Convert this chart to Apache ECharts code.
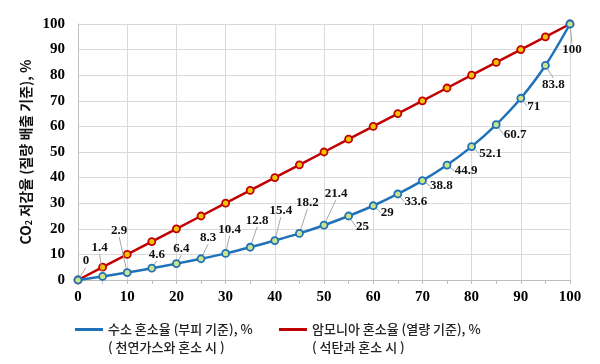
<!DOCTYPE html>
<html><head><meta charset="utf-8">
<script src="https://cdn.jsdelivr.net/npm/echarts@6/dist/echarts.min.js"></script>
<style>html,body{margin:0;padding:0;background:#fff}#c{width:600px;height:364px}</style>
</head><body><div id="c"></div>
<script>
var blendRatio = [0,5,10,15,20,25,30,35,40,45,50,55,60,65,70,75,80,85,90,95,100];
var hydrogenReduction = [0,1.4,2.9,4.6,6.4,8.3,10.4,12.8,15.4,18.2,21.4,25,29,33.6,38.8,44.9,52.1,60.7,71,83.8,100];
var ammoniaReduction = [0,5,10,15,20,25,30,35,40,45,50,55,60,65,70,75,80,85,90,95,100];
var hydrogenName = '수소 혼소율 (부피 기준), %';
var hydrogenSub = '( 천연가스와 혼소 시 )';
var ammoniaName = '암모니아 혼소율 (열량 기준), %';
var ammoniaSub = '( 석탄과 혼소 시 )';

// label offsets (style only)
var labelOffsets = [[8,-19],[-3,-29],[-8,-42],[5,-14],[5,-15],[7,-21],[4,-24],[7,-27],[6,-30],[8,-31],[12,-32],
  [14,11],[14,7],[18,8],[19,5],[19,6],[19,7],[19,10],[13,8],[8,19],[2,26]];

var chart = echarts.init(document.getElementById('c'));
var serif = '"Liberation Serif","Times New Roman",serif';
var kr = '"Noto Sans CJK KR","Noto Sans",sans-serif';
var subs = {};
subs[hydrogenName] = hydrogenSub;
subs[ammoniaName] = ammoniaSub;
function legendFmt(name) { return '{e| }\n{a|' + name + '}\n{a|' + subs[name] + '}'; }
var legendText = {
  fontFamily: kr, fontSize: 13, color: '#222',
  rich: {
    e: {fontSize: 13, lineHeight: 18},
    a: {fontFamily: kr, fontSize: 13, fontWeight: 500, color: '#222', lineHeight: 18}
  }
};
chart.setOption({
  animation: false,
  grid: {left: 78, right: 30, top: 24, bottom: 84},
  xAxis: {
    type: 'value', min: 0, max: 100, interval: 10,
    axisLine: {show: true, lineStyle: {color: '#bfbfbf'}},
    axisTick: {show: true, length: 4, lineStyle: {color: '#bfbfbf'}},
    minorTick: {show: true, splitNumber: 2, length: 4, lineStyle: {color: '#bfbfbf'}},
    axisLabel: {fontFamily: serif, fontWeight: 'bold', fontSize: 15, color: '#000', margin: 10},
    splitLine: {show: true, lineStyle: {color: '#d9d9d9'}}
  },
  yAxis: {
    type: 'value', min: 0, max: 100, interval: 10,
    axisLine: {show: true, lineStyle: {color: '#bfbfbf'}},
    axisTick: {show: false},
    axisLabel: {fontFamily: serif, fontWeight: 'bold', fontSize: 15, color: '#000', margin: 13},
    splitLine: {show: true, lineStyle: {color: '#d9d9d9'}},
    name: '{a|CO}{s|2}{a| 저감율 (질량 배출 기준), %}',
    nameLocation: 'middle', nameGap: 45, nameMoveOverlap: false,
    nameTextStyle: {
      rich: {
        a: {fontFamily: kr, fontSize: 14, fontWeight: 'bold', color: '#111'},
        s: {fontFamily: kr, fontSize: 9, fontWeight: 'bold', color: '#111', padding: [6,0,0,0]}
      }
    }
  },
  legend: [
    {data: [{name: hydrogenName, itemStyle: {color: '#1f72b8', borderWidth: 0}}],
     left: 70, top: 300, icon: 'rect', itemWidth: 28, itemHeight: 3, itemGap: 8,
     formatter: legendFmt, textStyle: legendText},
    {data: [{name: ammoniaName, itemStyle: {color: '#c00000', borderWidth: 0}}],
     left: 274, top: 300, icon: 'rect', itemWidth: 28, itemHeight: 3, itemGap: 8,
     formatter: legendFmt, textStyle: legendText}
  ],
  series: [
    {
      name: ammoniaName, type: 'line', z: 2,
      data: blendRatio.map(function (x, i) { return [x, ammoniaReduction[i]]; }),
      color: '#c00000',
      lineStyle: {color: '#c00000', width: 2.5},
      symbol: 'circle', symbolSize: 7,
      itemStyle: {color: '#f5c400', borderColor: '#c00000', borderWidth: 1.8}
    },
    {
      name: hydrogenName, type: 'line', z: 3, smooth: 0.3,
      data: blendRatio.map(function (x, i) { return [x, hydrogenReduction[i]]; }),
      color: '#1f72b8',
      lineStyle: {color: '#1f72b8', width: 2.5},
      symbol: 'circle', symbolSize: 7,
      itemStyle: {color: '#cde38a', borderColor: '#1f72b8', borderWidth: 1.8},
      label: {
        show: true, position: 'inside', align: 'center', verticalAlign: 'middle',
        fontFamily: serif, fontWeight: 'bold', fontSize: 13, color: '#111',
        formatter: function (p) { return String(hydrogenReduction[p.dataIndex]); }
      },
      labelLine: {show: true, lineStyle: {color: '#a6a6a6', width: 1}},
      labelLayout: function (p) {
        var o = labelOffsets[p.dataIndex];
        return {dx: o[0], dy: o[1]};
      }
    }
  ]
});
</script>
</body></html>
